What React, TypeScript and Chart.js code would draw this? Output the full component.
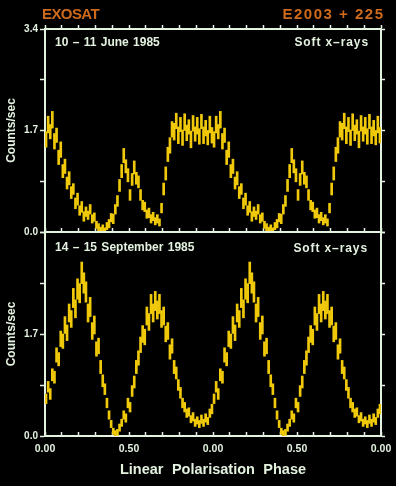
import React, { useEffect, useRef } from 'react';
import { Chart, registerables } from 'chart.js';

Chart.register(...registerables);

// ---------- data (one phase cycle, folded light curve, plotted twice) ----------
const CYCLES = 2;

const X_TICKS = [0, 0.1, 0.2, 0.3, 0.4, 0.5, 0.6, 0.7, 0.8, 0.9, 1.0, 1.1, 1.2, 1.3, 1.4, 1.5, 1.6, 1.7, 1.8, 1.9, 2.0];
const X_TICK_LABELS = ['0.00', '', '', '', '', '0.50', '', '', '', '', '0.00', '', '', '', '', '0.50', '', '', '', '', '0.00'];
const Y_TICKS = [0, 0.85, 1.7, 2.55, 3.4];
const Y_TICK_LABELS_TOP = ['0.0', '', '1.7', '', '3.4'];
const Y_TICK_LABELS_BOTTOM = ['0.0', '', '1.7', '', ''];

const JUNE_COUNTS = [
  1.55, 1.80, 1.68, 1.88, 1.52, 1.62, 1.25, 1.38, 1.02, 1.10,
  0.82, 0.90, 0.66, 0.72, 0.48, 0.55, 0.36, 0.42, 0.26, 0.34,
  0.28, 0.38, 0.22, 0.25, 0.12, 0.08, 0.03, 0.06, 0.02, 0.10,
  0.14, 0.24, 0.22, 0.38, 0.52, 0.78, 1.02, 1.28, 1.10, 0.95,
  0.62, 0.88, 1.08, 0.90, 0.84, 0.62, 0.45, 0.42, 0.30, 0.32,
  0.22, 0.26, 0.18, 0.22, 0.16, 0.40, 0.72, 0.98, 1.30, 1.45,
  1.72, 1.68, 1.86, 1.62, 1.80, 1.58, 1.84, 1.66, 1.76, 1.55,
  1.82, 1.64, 1.78, 1.60, 1.85, 1.62, 1.74, 1.58, 1.80, 1.62,
];
const JUNE_ERRORS = [
  0.13, 0.14, 0.12, 0.14, 0.13, 0.12, 0.12, 0.13, 0.11, 0.12,
  0.10, 0.11, 0.10, 0.09, 0.09, 0.10, 0.08, 0.09, 0.08, 0.08,
  0.07, 0.08, 0.07, 0.07, 0.06, 0.06, 0.05, 0.06, 0.05, 0.06,
  0.07, 0.07, 0.08, 0.08, 0.09, 0.10, 0.11, 0.12, 0.11, 0.11,
  0.09, 0.10, 0.11, 0.10, 0.10, 0.09, 0.08, 0.08, 0.07, 0.08,
  0.07, 0.07, 0.06, 0.07, 0.06, 0.08, 0.10, 0.11, 0.12, 0.13,
  0.13, 0.14, 0.13, 0.14, 0.12, 0.13, 0.14, 0.13, 0.12, 0.14,
  0.13, 0.12, 0.14, 0.13, 0.12, 0.14, 0.13, 0.12, 0.14, 0.13,
];

const SEPT_COUNTS = [
  0.62, 0.82, 0.70, 1.02, 0.98, 1.35, 1.28, 1.62, 1.58, 1.85,
  1.72, 2.05, 1.95, 2.30, 2.12, 2.45, 2.38, 2.72, 2.55, 2.40,
  2.05, 2.15, 1.75, 1.85, 1.45, 1.50, 1.15, 0.92, 0.78, 0.55,
  0.35, 0.20, 0.08, 0.04, 0.06, 0.14, 0.22, 0.35, 0.30, 0.55,
  0.48, 0.75, 0.90, 1.15, 1.30, 1.52, 1.70, 1.65, 2.00, 1.90,
  2.20, 2.05, 2.25, 2.10, 2.20, 1.95, 2.00, 1.70, 1.75, 1.40,
  1.50, 1.15, 1.05, 0.85, 0.72, 0.55, 0.48, 0.38, 0.40, 0.28,
  0.32, 0.22, 0.26, 0.20, 0.28, 0.22, 0.30, 0.25, 0.38, 0.45,
];
const SEPT_ERRORS = [
  0.08, 0.09, 0.09, 0.10, 0.10, 0.12, 0.11, 0.13, 0.12, 0.14,
  0.13, 0.15, 0.14, 0.16, 0.15, 0.17, 0.16, 0.18, 0.17, 0.17,
  0.15, 0.16, 0.14, 0.15, 0.12, 0.13, 0.11, 0.10, 0.09, 0.08,
  0.07, 0.06, 0.05, 0.05, 0.05, 0.06, 0.06, 0.07, 0.07, 0.08,
  0.08, 0.09, 0.10, 0.11, 0.12, 0.13, 0.14, 0.13, 0.15, 0.14,
  0.16, 0.15, 0.16, 0.15, 0.16, 0.14, 0.15, 0.13, 0.14, 0.12,
  0.12, 0.11, 0.10, 0.09, 0.09, 0.08, 0.08, 0.07, 0.07, 0.06,
  0.07, 0.06, 0.06, 0.06, 0.07, 0.06, 0.07, 0.06, 0.07, 0.08,
];

const Y_TITLE = 'Counts/sec';
const X_TITLE = 'Linear Polarisation Phase';

// ---------- styles ----------
const AXIS_COLOR = '#e4f2e0';
const ORANGE = '#cd6a1c';
const YELLOW = '#f0ca0a';
const FONT = "'Liberation Sans', Arial, sans-serif";

function buildSeries(counts: number[], errors: number[]) {
  const pts: { x: number; y: [number, number] }[] = [];
  for (let c = 0; c < CYCLES; c++) {
    counts.forEach((v, i) => {
      pts.push({ x: c + (i + 0.5) / counts.length, y: [v - errors[i], v + errors[i]] });
    });
  }
  return pts;
}

type PanelOpts = {
  counts: number[];
  errors: number[];
  yLabels: string[];
  topH: number;
  bottomH: number;
  topTick: number;
  showTopTicks: boolean;
  showXLabels: boolean;
};

function panelConfig(p: PanelOpts): any {
  const tickFont = { family: FONT, size: 10.5, weight: 'bold' };
  const border = { display: true, color: AXIS_COLOR, width: 2 };
  const xTicksFn = (s: any) => {
    s.ticks = X_TICKS.map((v) => ({ value: v }));
  };
  const yTicksFn = (s: any) => {
    s.ticks = Y_TICKS.map((v) => ({ value: v }));
  };
  const fixH = (h: number) => (s: any) => {
    s.height = h;
    s.paddingLeft = 0;
    s.paddingRight = 0;
  };
  const fixW = (w: number) => (s: any) => {
    s.width = w;
    s.paddingTop = 0;
    s.paddingBottom = 0;
  };
  return {
    type: 'bar',
    data: {
      datasets: [
        {
          data: buildSeries(p.counts, p.errors),
          backgroundColor: YELLOW,
          borderWidth: 0,
          barThickness: 2,
        },
      ],
    },
    options: {
      animation: false,
      responsive: false,
      events: [],
      layout: { padding: 0 },
      plugins: { legend: { display: false }, tooltip: { enabled: false }, title: { display: false } },
      scales: {
        x: {
          type: 'linear',
          position: 'bottom',
          min: 0,
          max: 2,
          offset: false,
          afterBuildTicks: xTicksFn,
          afterFit: fixH(p.bottomH),
          border,
          grid: {
            display: true,
            offset: false,
            drawOnChartArea: false,
            drawTicks: true,
            tickLength: -4,
            tickColor: AXIS_COLOR,
            tickWidth: 1.5,
            color: AXIS_COLOR,
          },
          ticks: {
            display: p.showXLabels,
            autoSkip: false,
            maxRotation: 0,
            minRotation: 0,
            padding: 11,
            color: AXIS_COLOR,
            font: tickFont,
            callback: (_v: any, i: number) => X_TICK_LABELS[i],
          },
        },
        x2: {
          type: 'linear',
          position: 'top',
          min: 0,
          max: 2,
          offset: false,
          afterBuildTicks: xTicksFn,
          afterFit: fixH(p.topH),
          border,
          grid: {
            display: true,
            offset: false,
            drawOnChartArea: false,
            drawTicks: p.showTopTicks,
            tickLength: p.topTick,
            tickColor: AXIS_COLOR,
            tickWidth: 1.5,
            color: AXIS_COLOR,
          },
          ticks: { display: false },
        },
        y: {
          type: 'linear',
          position: 'left',
          min: 0,
          max: 3.4,
          afterBuildTicks: yTicksFn,
          afterFit: fixW(45),
          border,
          grid: {
            display: true,
            drawOnChartArea: false,
            drawTicks: true,
            tickLength: 5,
            tickColor: AXIS_COLOR,
            tickWidth: 1.5,
            color: AXIS_COLOR,
          },
          ticks: {
            padding: 2,
            color: AXIS_COLOR,
            font: { family: FONT, size: 10, weight: 'bold' },
            callback: (_v: any, i: number) => p.yLabels[i],
          },
          title: {
            display: true,
            text: Y_TITLE,
            color: AXIS_COLOR,
            font: { family: FONT, size: 12, weight: 'bold' },
            padding: { top: 4, bottom: 0 },
          },
        },
        y2: {
          type: 'linear',
          position: 'right',
          min: 0,
          max: 3.4,
          afterBuildTicks: yTicksFn,
          afterFit: fixW(15),
          border,
          grid: {
            display: true,
            drawOnChartArea: false,
            drawTicks: true,
            tickLength: 4,
            tickColor: AXIS_COLOR,
            tickWidth: 1.5,
            color: AXIS_COLOR,
          },
          ticks: { display: false },
        },
      },
    },
  };
}

const textBase: React.CSSProperties = {
  position: 'absolute',
  fontFamily: FONT,
  fontWeight: 'bold',
  whiteSpace: 'nowrap',
};

export default function App() {
  const topRef = useRef<HTMLCanvasElement>(null);
  const botRef = useRef<HTMLCanvasElement>(null);

  useEffect(() => {
    document.body.style.margin = '0';
    document.body.style.background = '#000';
    const top = new Chart(
      topRef.current as HTMLCanvasElement,
      panelConfig({
        counts: JUNE_COUNTS,
        errors: JUNE_ERRORS,
        yLabels: Y_TICK_LABELS_TOP,
        topH: 29,
        bottomH: 8,
        topTick: 4,
        showTopTicks: true,
        showXLabels: false,
      })
    );
    const bottom = new Chart(
      botRef.current as HTMLCanvasElement,
      panelConfig({
        counts: SEPT_COUNTS,
        errors: SEPT_ERRORS,
        yLabels: Y_TICK_LABELS_BOTTOM,
        topH: 8,
        bottomH: 50,
        topTick: 0,
        showTopTicks: false,
        showXLabels: true,
      })
    );
    return () => {
      top.destroy();
      bottom.destroy();
    };
  }, []);

  return (
    <div style={{ position: 'relative', width: 396, height: 486, background: '#000', overflow: 'hidden' }}>
      <canvas ref={topRef} width={396} height={240} style={{ position: 'absolute', left: 0, top: 0 }} />
      <canvas ref={botRef} width={396} height={262} style={{ position: 'absolute', left: 0, top: 224 }} />
      <div style={{ ...textBase, left: 42, top: 5.6, fontSize: 15, lineHeight: '15px', color: ORANGE, letterSpacing: -0.6 }}>
        EXOSAT
      </div>
      <div style={{ ...textBase, right: 11.5, top: 5.6, fontSize: 15, lineHeight: '15px', color: ORANGE, letterSpacing: 1.5 }}>
        E2003 + 225
      </div>
      <div style={{ ...textBase, left: 55, top: 36, fontSize: 12, lineHeight: '12px', color: AXIS_COLOR, wordSpacing: 1 }}>
        10 – 11 June 1985
      </div>
      <div style={{ ...textBase, right: 27, top: 36, fontSize: 12, lineHeight: '12px', color: AXIS_COLOR, letterSpacing: 0.9 }}>
        Soft x–rays
      </div>
      <div style={{ ...textBase, left: 55, top: 241, fontSize: 12, lineHeight: '12px', color: AXIS_COLOR, wordSpacing: 1 }}>
        14 – 15 September 1985
      </div>
      <div style={{ ...textBase, right: 28, top: 241.5, fontSize: 12, lineHeight: '12px', color: AXIS_COLOR, letterSpacing: 0.9 }}>
        Soft x–rays
      </div>
      <div
        style={{
          ...textBase,
          left: 63,
          width: 300,
          textAlign: 'center',
          top: 462,
          fontSize: 14.5,
          lineHeight: '14.5px',
          color: AXIS_COLOR,
          wordSpacing: 4.4,
        }}
      >
        {X_TITLE}
      </div>
    </div>
  );
}
